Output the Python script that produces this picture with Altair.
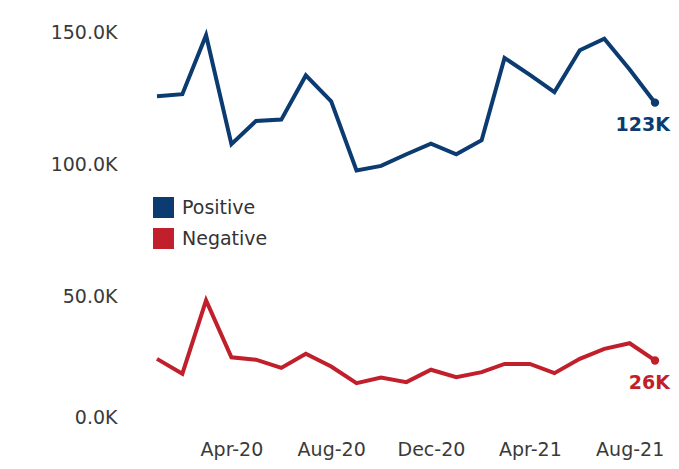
import altair as alt
import pandas as pd

# ---- data (values in thousands) ----
months = ["2020-01-01", "2020-02-01", "2020-03-01", "2020-04-01", "2020-05-01",
          "2020-06-01", "2020-07-01", "2020-08-01", "2020-09-01", "2020-10-01",
          "2020-11-01", "2020-12-01", "2021-01-01", "2021-02-01", "2021-03-01",
          "2021-04-01", "2021-05-01", "2021-06-01", "2021-07-01", "2021-08-01",
          "2021-09-01"]
positive = [125.7, 126.5, 148.8, 107.6, 116.4, 116.9, 133.6, 123.8, 97.7, 99.4,
            103.8, 107.8, 103.8, 109.1, 140.2, 133.8, 127.3, 143.1, 147.5, 135.8,
            123.3]
negative = [26.5, 20.9, 48.6, 27.1, 26.2, 23.1, 28.4, 23.6, 17.3, 19.4,
            17.7, 22.4, 19.6, 21.5, 24.6, 24.6, 21.1, 26.5, 30.3, 32.4,
            25.9]
series_names = ["Positive", "Negative"]
series_colors = ["#0b3b70", "#c01f2b"]
y_ticks = [0, 50, 100, 150]
x_ticks = ["2020-04-01", "2020-08-01", "2020-12-01", "2021-04-01", "2021-08-01"]

rows = []
for name, vals in zip(series_names, [positive, negative]):
    for m, v in zip(months, vals):
        rows.append({"date": m, "series": name, "value": v})
df = pd.DataFrame(rows)
df["date"] = pd.to_datetime(df["date"])
last = df[df["date"] == df["date"].max()].copy()
last["label"] = last["value"].round(0).astype(int).astype(str) + "K"


def dt(s):
    t = pd.Timestamp(s)
    return alt.DateTime(year=t.year, month=t.month, date=t.day)


FONT = "DejaVu Sans"
# legend scale (shown) and an equivalent mapping listed in reverse order for the
# layers that must not add their own legend
legend_scale = alt.Scale(domain=series_names, range=series_colors)
plain_scale = alt.Scale(domain=series_names[::-1], range=series_colors[::-1])

x_enc = alt.X(
    "date:T",
    title=None,
    scale=alt.Scale(domain=[dt(months[0]), dt(months[-1])]),
    axis=alt.Axis(values=[dt(s) for s in x_ticks], format="%b-%y",
                  labelPadding=11, tickSize=0, ticks=False, domain=False,
                  grid=False, labelFlush=False),
)
y_enc = alt.Y(
    "value:Q",
    title=None,
    scale=alt.Scale(domain=[0, 150], nice=False),
    axis=alt.Axis(values=y_ticks,
                  labelExpr="format(datum.value, '.1f') + 'K'",
                  labelPadding=40, tickSize=0, ticks=False, domain=False,
                  grid=False,
                  labelOffset={"condition": {"test": "datum.value === 0", "value": -12},
                               "value": 0}),
)

lines = alt.Chart(df).mark_line(strokeWidth=4, clip=False).encode(
    x=x_enc, y=y_enc,
    stroke=alt.Stroke("series:N", scale=plain_scale, legend=None),
)

points = alt.Chart(last).mark_point(filled=True, size=70, opacity=1,
                                    strokeWidth=0, clip=False).encode(
    x=x_enc, y=y_enc,
    fill=alt.Fill(
        "series:N", scale=legend_scale,
        legend=alt.Legend(title=None, orient="none", legendX=-4, legendY=165,
                          symbolType="square", symbolSize=441,
                          symbolStrokeWidth=0, symbolOpacity=1,
                          labelFont=FONT, labelFontSize=19, labelColor="#333333",
                          labelOffset=8, rowPadding=10, padding=0),
    ),
)

labels = alt.Chart(last).mark_text(
    align="right", baseline="middle", dx=15, dy=22.5,
    font=FONT, fontSize=19, fontWeight="bold", clip=False,
).encode(
    x=x_enc, y=y_enc, text="label:N",
    color=alt.Color("series:N", scale=plain_scale, legend=None),
)

chart = alt.layer(lines, points, labels).properties(
    width=498, height=397,
    padding={"left": 149, "top": 24, "right": 16, "bottom": 31},
    autosize=alt.AutoSizeParams(type="none"),
).configure_view(stroke=None).configure_axis(
    labelFont=FONT, labelFontSize=19, labelColor="#3a3a3a",
)

chart.save("out.html", embed_options={"renderer": "svg", "actions": False})
